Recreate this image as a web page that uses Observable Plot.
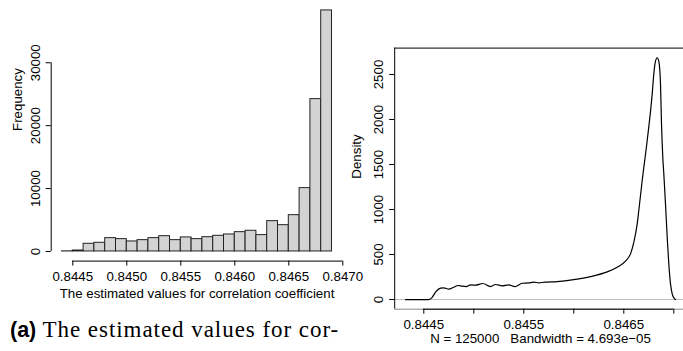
<!DOCTYPE html>
<html>
<head>
<meta charset="utf-8">
<script src="https://cdn.jsdelivr.net/npm/d3@7"></script>
<script src="https://cdn.jsdelivr.net/npm/@observablehq/plot@0.6"></script>
<style>
  html, body { margin: 0; padding: 0; background: #fff; }
  #fig { position: relative; width: 683px; height: 351px; overflow: hidden; }
  #fig svg { position: absolute; left: 0; top: 0; }
  #caption { position: absolute; left: 10px; top: 318px; white-space: nowrap; line-height: 1; color: #000; }
  #caption .tag { font-family: "Liberation Sans", Arial, sans-serif; font-weight: bold; font-size: 21.5px; }
  #caption .body { font-family: "Liberation Serif", "Times New Roman", serif; font-size: 23px; letter-spacing: 0.95px; }
</style>
</head>
<body>
<div id="fig">
  <div id="caption"><span class="tag">(a)</span><span class="body"> The estimated values for cor-</span></div>
</div>
<script>
// Histogram of the estimated correlation coefficients
const binEdges = [0.8444, 0.8445, 0.8446, 0.8447, 0.8448, 0.8449, 0.8450, 0.8451, 0.8452,
                  0.8453, 0.8454, 0.8455, 0.8456, 0.8457, 0.8458, 0.8459, 0.8460, 0.8461,
                  0.8462, 0.8463, 0.8464, 0.8465, 0.8466, 0.8467, 0.8468, 0.8469];
const binCounts = [20, 150, 1220, 1380, 2120, 1960, 1590, 1800, 2120, 2430, 1800, 2230, 1960,
                   2270, 2490, 2700, 3070, 3290, 2600, 4820, 4180, 5770, 10070, 24220, 38320];
const histXTicks = [0.8445, 0.8450, 0.8455, 0.8460, 0.8465, 0.8470];
const histYTicks = [0, 10000, 20000, 30000];
const histXLabel = "The estimated values for correlation coefficient";
const histYLabel = "Frequency";

// Kernel density estimate of the same values
const densityX = [0.844317, 0.844550, 0.844584, 0.844617, 0.844667, 0.844700, 0.844750, 0.844800,
                  0.844844, 0.844884, 0.844924, 0.844967, 0.845017, 0.845090, 0.845167, 0.845217,
                  0.845284, 0.845350, 0.845410, 0.845484, 0.845550, 0.845600, 0.845650, 0.845710,
                  0.845834, 0.846000, 0.846167, 0.846334, 0.846434, 0.846517, 0.846567, 0.846600,
                  0.846634, 0.846650, 0.846684, 0.846734, 0.846784, 0.846800, 0.846817, 0.846834,
                  0.846850, 0.846867, 0.846877, 0.846890, 0.846900, 0.846917, 0.846934, 0.846950,
                  0.846967, 0.846984, 0.847007, 0.847017];
const densityY = [0, 0, 25, 81, 126, 130, 115, 137,
                  156, 148, 144, 163, 159, 178, 144, 167,
                  152, 163, 144, 181, 185, 193, 185, 193,
                  200, 222, 255, 307, 359, 426, 507, 635,
                  841, 989, 1322, 1767, 2285, 2507, 2648, 2686,
                  2648, 2396, 1952, 1581, 1400, 1063, 692, 396,
                  174, 63, 8, 0];
const densityXTicks = [0.8445, 0.8450, 0.8455, 0.8460, 0.8465, 0.8470];
const densityXLabels = [0.8445, 0.8455, 0.8465];
const densityYTicks = [0, 500, 1000, 1500, 2000, 2500];
const densityN = 125000;
const densityBandwidth = "4.693e\u221205";
const densityYLabel = "Density";

// R-style axis limits: data range widened by 4% on each side
const widen = ([lo, hi]) => { const d = (hi - lo) * 0.04; return [lo - d, hi + d]; };

const font = '"Liberation Sans", Arial, Helvetica, sans-serif';
const baseStyle = {background: "transparent", maxWidth: "none", overflow: "visible",
                   fontFamily: font, fontSize: "13.3px", color: "#000"};

const hist = binCounts.map((c, i) => ({x1: binEdges[i], x2: binEdges[i + 1], count: c}));
const hx = widen(d3.extent(binEdges));
const hy = widen([0, d3.max(binCounts)]);

const left = Plot.plot({
  width: 683, height: 351,
  marginLeft: 50.7, marginRight: 340.7, marginTop: 0.3, marginBottom: 90.4,
  x: {domain: hx}, y: {domain: hy},
  style: baseStyle,
  marks: [
    Plot.rectY(hist, {x1: "x1", x2: "x2", y: "count", fill: "#d3d3d3", stroke: "#222", strokeWidth: 1}),
    Plot.ruleY([hy[0]], {x1: histXTicks[0], x2: histXTicks[histXTicks.length - 1], stroke: "#000"}),
    Plot.axisX({ticks: histXTicks, tickSize: 5, tickPadding: 5.6, tickFormat: d => d.toFixed(4), label: null, fontSize: 13.3}),
    Plot.ruleX([hx[0]], {y1: histYTicks[0], y2: histYTicks[histYTicks.length - 1], stroke: "#000"}),
    Plot.axisY({ticks: histYTicks, tickSize: 5, tickRotate: -90, tickPadding: 6.3, tickFormat: d => String(d), label: null, fontSize: 13.3}),
    Plot.text([histYLabel], {frameAnchor: "left", dx: -33.7, rotate: -90, fontSize: 13.3}),
    Plot.text([histXLabel], {frameAnchor: "bottom", dy: 37, fontSize: 13.3})
  ]
});

const dens = densityX.map((x, i) => ({x, y: densityY[i]}));
const dxDom = widen(d3.extent(densityX));
const dyDom = widen(d3.extent(densityY));

const right = Plot.plot({
  width: 686, height: 351,
  marginLeft: 394.2, marginRight: 0.2, marginTop: 47.6, marginBottom: 42.3,
  x: {domain: dxDom}, y: {domain: dyDom},
  style: baseStyle,
  marks: [
    Plot.ruleY([0], {stroke: "#bdbdbd", strokeWidth: 1}),
    Plot.line(dens, {x: "x", y: "y", stroke: "#000", strokeWidth: 1.2, curve: "monotone-x"}),
    Plot.ruleY([dyDom[1]], {stroke: "#000"}),
    Plot.ruleX([dxDom[0]], {stroke: "#000"}),
    Plot.ruleY([dyDom[0]], {stroke: "#888"}),
    Plot.ruleY([dyDom[0]], {x1: densityXTicks[0], x2: densityXTicks[densityXTicks.length - 1], stroke: "#000"}),
    Plot.axisX({ticks: densityXTicks, tickSize: 5, tickPadding: 5.6,
                tickFormat: d => densityXLabels.includes(d) ? d.toFixed(4) : "", label: null, fontSize: 13.3}),
    Plot.axisY({ticks: densityYTicks, tickSize: 5, tickRotate: -90, tickPadding: 6.3, tickFormat: d => String(d), label: null, fontSize: 13.3}),
    Plot.text([densityYLabel], {frameAnchor: "left", dx: -37.5, rotate: -90, fontSize: 13.3}),
    Plot.text([`N = ${densityN}\u00a0\u00a0\u00a0Bandwidth = ${densityBandwidth}`], {frameAnchor: "bottom", dy: 34, fontSize: 13.3})
  ]
});

const fig = document.getElementById("fig");
fig.insertBefore(right, fig.firstChild);
fig.insertBefore(left, fig.firstChild);
</script>
</body>
</html>
